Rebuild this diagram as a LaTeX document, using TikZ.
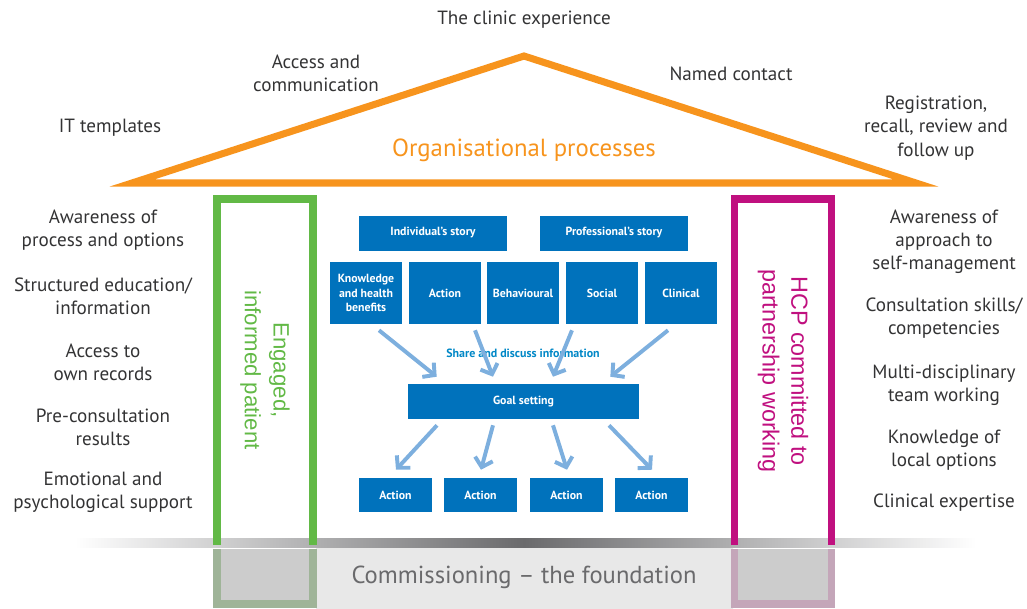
\documentclass[tikz,border=0pt]{standalone}
\usepackage{fontspec}
\setmainfont{PT Sans}
\newfontfamily\pillarfont{Liberation Sans}
\usepackage{xcolor}
\usepackage{tikz}
\usetikzlibrary{arrows.meta}

\definecolor{roof}{HTML}{F7941D}
\definecolor{patient}{HTML}{62B946}
\definecolor{hcp}{HTML}{C0107F}
\definecolor{boxblue}{HTML}{0072BC}
\definecolor{flowblue}{HTML}{7DAFDE}
\definecolor{txtgray}{HTML}{333334}
\definecolor{ground}{HTML}{6A6A6C}

\tikzset{
  lbl/.style={text=txtgray, align=center, inner sep=0pt, font=\fontsize{13.6}{16.5}\selectfont},
  bluebox/.style={fill=boxblue, text=white, align=center, inner sep=1pt,
    font=\bfseries\fontsize{8.4}{10}\selectfont},
  flow/.style={draw=flowblue, line width=2.8pt, -{Straight Barb[length=6pt,width=13pt]}},
}

\begin{document}
\begin{tikzpicture}[x=0.025cm, y=-0.025cm]
\useasboundingbox (0,0) rectangle (1027,608);

% ground line and foundation
\shade[left color=gray!18, middle color=gray!32, right color=gray!18] (316,547) rectangle (733,608);
\shade[left color=white, right color=ground] (75,538) rectangle (524,547);
\shade[left color=ground, right color=white] (524,538) rectangle (976,547);
\draw[draw=patient!35!gray!70, fill=gray!40, line width=5pt] (217,549) -- (217,604) -- (313,604) -- (313,549);
\draw[draw=hcp!30!gray!55, fill=gray!40, line width=5pt] (734.5,549) -- (734.5,604) -- (831.5,604) -- (831.5,549);
\node[text=ground, font=\fontsize{17.5}{19}\selectfont] (found) at (524,577) {Commissioning -- the foundation};

% roof
\draw[roof, line width=5pt, line join=miter] (132,183) -- (524,56) -- (916,183) -- cycle;
\node[text=roof, font=\fontsize{17.6}{19}\selectfont] (orgproc) at (524,150) {Organisational processes};

\node[lbl] (clinic) at (524,20) {The clinic experience};
\node[lbl] (access) at (316,73) {Access and\\communication};
\node[lbl] (named) at (731,74) {Named contact};
\node[lbl] (ittempl) at (110,128) {IT templates};
\node[lbl] (recall) at (936,128) {Registration,\\recall, review and\\follow up};

% pillars
\draw[patient, line width=5pt] (217,545) -- (217,199) -- (313,199) -- (313,545);
\node[text=patient, rotate=-90, align=center, font=\pillarfont\fontsize{15.8}{20.5}\selectfont] (patient) at (265,370) {Engaged,\\informed patient};
\draw[hcp, line width=5pt] (734.5,545) -- (734.5,199) -- (831.5,199) -- (831.5,545);
\node[text=hcp, rotate=-90, align=center, font=\pillarfont\fontsize{16.6}{20.5}\selectfont] (hcp) at (783,371) {HCP committed to\\partnership working};

% left column
\node[lbl] (l1) at (103,230) {Awareness of\\process and options};
\node[lbl] (l2) at (103,296) {Structured education/\\information};
\node[lbl] (l3) at (103,362) {Access to\\own records};
\node[lbl] (l4) at (103,427) {Pre-consultation\\results};
\node[lbl] (l5) at (103,492) {Emotional and\\psychological support};

% right column
\node[lbl] (r1) at (944,242) {Awareness of\\approach to\\self-management};
\node[lbl] (r2) at (944,318) {Consultation skills/\\competencies};
\node[lbl] (r3) at (944,385) {Multi-disciplinary\\team working};
\node[lbl] (r4) at (944,450) {Knowledge of\\local options};
\node[lbl] (r5) at (944,503) {Clinical expertise};

% consultation
\node[bluebox, minimum width=3.7cm, minimum height=0.875cm] (indiv) at (433,233) {Individual's story};
\node[bluebox, minimum width=3.7cm, minimum height=0.875cm] (prof) at (614,233) {Professional's story};

\node[bluebox, minimum width=1.8cm, minimum height=1.55cm] (know) at (366,293) {Knowledge\\and health\\benefits};
\node[bluebox, minimum width=1.8cm, minimum height=1.55cm] (act) at (445,293) {Action};
\node[bluebox, minimum width=1.8cm, minimum height=1.55cm] (behav) at (523,293) {Behavioural};
\node[bluebox, minimum width=1.8cm, minimum height=1.55cm] (social) at (602,293) {Social};
\node[bluebox, minimum width=1.8cm, minimum height=1.55cm] (clinical) at (681,293) {Clinical};

\node[text=boxblue!85!cyan, font=\bfseries\fontsize{8.5}{10}\selectfont] (share) at (523,353) {Share and discuss information};

\node[bluebox, minimum width=5.775cm, minimum height=0.875cm] (goal) at (523.5,401.5) {Goal setting};

\foreach \x [count=\i] in {395.5,480.5,566.5,651.5} {
    \node[bluebox, minimum width=1.825cm, minimum height=0.85cm] (out\i) at (\x,495) {Action};
}

\draw[flow] ([shift={(13,6)}]know.south) -- ([shift={(29,-7)}]goal.north west);
\draw[flow] ([shift={(30,6)}]act.south) -- ([shift={(-30.5,-7)}]goal.north);
\draw[flow] ([shift={(-30,6)}]social.south) -- ([shift={(29.5,-7)}]goal.north);
\draw[flow] ([shift={(-13,6)}]clinical.south) -- ([shift={(-29,-7)}]goal.north east);

\foreach \dx [count=\i] in {-86.5,-30.5,29.5,85.5} {
    \draw[flow] ([shift={(\dx,6)}]goal.south) -- ([shift={(0.5,-8)}]out\i.north);
}
\end{tikzpicture}
\end{document}
